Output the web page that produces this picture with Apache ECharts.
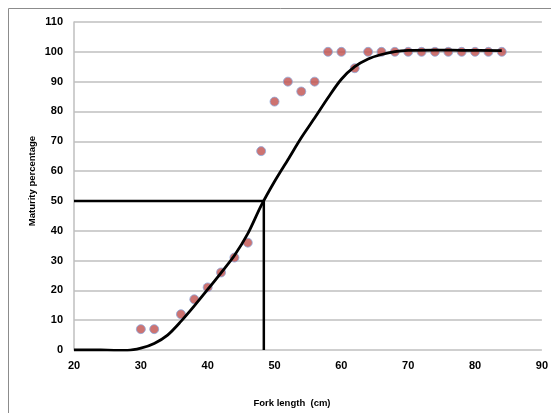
<!DOCTYPE html>
<html>
<head>
<meta charset="utf-8">
<script src="https://cdn.jsdelivr.net/npm/echarts@6/dist/echarts.min.js"></script>
<style>
  html, body { margin: 0; padding: 0; background: #fff; }
  #chart { width: 551px; height: 413px; }
</style>
</head>
<body>
<div id="chart"></div>
<script>
// observed maturity (%) by fork length (cm)
const obsLength = [30, 32, 36, 38, 40, 42, 44, 46, 48, 50, 52, 54, 56, 58, 60, 62, 64, 66, 68, 70, 72, 74, 76, 78, 80, 82, 84];
const obsMaturity = [7, 7, 12, 17, 21, 26, 31, 36, 66.7, 83.3, 90, 86.7, 90, 100, 100, 94.5, 100, 100, 100, 100, 100, 100, 100, 100, 100, 100, 100];

// fitted curve
const fitLength = [20, 24, 26, 28, 30, 32, 34, 36, 38, 40, 42, 44, 46, 48, 50, 52, 54, 56, 58, 60, 62, 64, 66, 68, 70, 74, 78, 84];
const fitMaturity = [0, 0, -0.1, -0.1, 0.6, 2.2, 5, 9.6, 14.8, 20.3, 25.9, 31.7, 39, 48.4, 56.5, 63.8, 71.2, 77.8, 84.6, 90.8, 95, 97.6, 99.1, 100.1, 100.5, 100.6, 100.5, 100.4];

// L50 guide lines
const l50X = [20, 48.4, 48.4];
const l50Y = [50, 50, 0];

const zip = (a, b) => a.map((v, i) => [v, b[i]]);

const chart = echarts.init(document.getElementById('chart'));
const fam = '"Liberation Sans", sans-serif';
const labelFont = { color: '#000', fontWeight: 'bold', fontSize: 11, fontFamily: fam };

chart.setOption({
  animation: false,
  grid: { left: 74, right: 8, top: 22, bottom: 63 },
  graphic: [
    { type: 'rect', shape: { x: 8.5, y: 8.5, width: 560, height: 420 },
      style: { fill: null, stroke: '#8c8c8c', lineWidth: 1 }, silent: true },
    { type: 'text', x: 292, y: 403,
      style: { text: 'Fork length  (cm)', fill: '#000', font: 'bold 9.5px ' + fam, align: 'center', verticalAlign: 'middle' } },
    { type: 'text', x: 32, y: 181, rotation: Math.PI / 2,
      style: { text: 'Maturity percentage', fill: '#000', font: 'bold 9.5px ' + fam, align: 'center', verticalAlign: 'middle' } }
  ],
  xAxis: {
    type: 'value', min: 20, max: 90, interval: 10,
    axisLine: { show: false },
    axisTick: { show: false },
    splitLine: { show: false },
    axisLabel: Object.assign({ margin: 10 }, labelFont)
  },
  yAxis: {
    type: 'value', min: 0, max: 110, interval: 10,
    axisLine: { show: true, lineStyle: { color: '#bfbfbf', width: 1.5 } },
    axisTick: { show: false },
    splitLine: { show: true, lineStyle: { color: '#bfbfbf', width: 1.5 } },
    axisLabel: Object.assign({ margin: 11 }, labelFont)
  },
  series: [
    {
      type: 'line', data: zip(fitLength, fitMaturity), smooth: 0.3, showSymbol: false,
      lineStyle: { color: '#000', width: 2.8 }, z: 3
    },
    {
      type: 'line', data: zip(l50X, l50Y), showSymbol: false,
      lineStyle: { color: '#000', width: 2.5 }, z: 3
    },
    {
      type: 'scatter', data: zip(obsLength, obsMaturity), symbol: 'circle', symbolSize: 9,
      itemStyle: { color: '#c0504d', borderColor: '#8ea9db', borderWidth: 1 }, z: 2
    }
  ]
});
</script>
</body>
</html>
